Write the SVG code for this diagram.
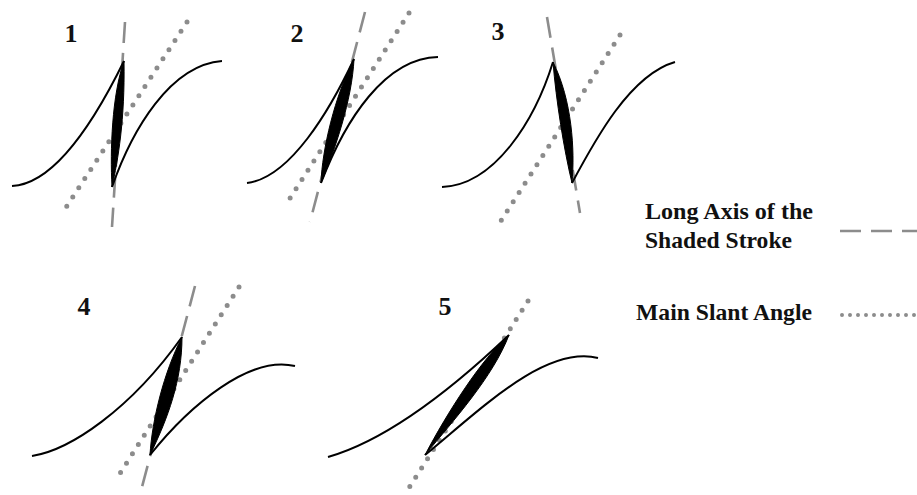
<svg xmlns="http://www.w3.org/2000/svg" width="917" height="495" viewBox="0 0 917 495">
<style>
.num{font-family:"Liberation Serif","Times New Roman",serif;font-weight:bold;font-size:26px;fill:#111;text-anchor:middle}
.lbl{font-family:"Liberation Serif","Times New Roman",serif;font-weight:bold;font-size:23px;fill:#111}
.dash{stroke:#8c8c8c;stroke-width:2.6;fill:none;stroke-dasharray:21 10}
.dot{stroke:#8c8c8c;stroke-width:5;fill:none;stroke-dasharray:0 11;stroke-linecap:round}
.ldot{stroke:#8c8c8c;stroke-width:4;fill:none;stroke-dasharray:0 8;stroke-linecap:round}
.crv{stroke:#000;stroke-width:2;fill:none}
.lens{fill:#000;stroke:#000;stroke-width:1}
</style>
<rect width="917" height="495" fill="#fff"/>
<g id="panel1">
<line class="dash" x1="125" y1="22" x2="112" y2="227"/>
<line class="dot" x1="187" y1="22" x2="63" y2="212"/>
<path class="crv" d="M12,186 C55,184 95,120 124,61"/>
<path class="crv" d="M112,187 C132,130 170,65 222,61"/>
<path class="lens" d="M124,61 C112,95 110,150 112,187 C118,160 125,120 124,61 Z"/>
<text class="num" x="71" y="42">1</text>
</g>
<g id="panel2">
<line class="dash" x1="365" y1="12" x2="310" y2="222"/>
<line class="dot" x1="409" y1="13" x2="287" y2="203"/>
<path class="crv" d="M247,183 C290,178 330,110 354,59"/>
<path class="crv" d="M321,183 C345,120 385,58 438,57"/>
<path class="lens" d="M354,59 C335,95 322,150 321,183 C335,150 352,100 354,59 Z"/>
<text class="num" x="297" y="42">2</text>
</g>
<g id="panel3">
<line class="dash" x1="547" y1="17" x2="580" y2="213"/>
<line class="dot" x1="620" y1="35" x2="497" y2="227"/>
<path class="crv" d="M442,187 C495,185 535,120 553,62"/>
<path class="crv" d="M572,183 C595,140 630,75 675,62"/>
<path class="lens" d="M553,62 C556,100 564,150 572,183 C575,150 572,100 553,62 Z"/>
<text class="num" x="498" y="40">3</text>
</g>
<g id="panel4">
<line class="dash" x1="195" y1="286" x2="142" y2="487"/>
<line class="dot" x1="239" y1="287" x2="117" y2="478"/>
<path class="crv" d="M32,456 C70,450 130,410 182,337"/>
<path class="crv" d="M150,455 C190,405 250,355 295,366"/>
<path class="lens" d="M182,337 C164,372 152,420 150,455 C168,418 182,380 182,337 Z"/>
<text class="num" x="84" y="315">4</text>
</g>
<g id="panel5">
<line class="dot" x1="528" y1="301" x2="407" y2="491"/>
<path class="crv" d="M328,457 C370,445 430,410 509,335"/>
<path class="crv" d="M425,455 C480,410 545,345 598,358"/>
<path class="lens" d="M509,335 C482,358 447,413 425,455 C453,421 493,377 509,335 Z"/>
<text class="num" x="445" y="315">5</text>
</g>
<g id="legend">
<text class="lbl" x="645" y="219" textLength="168" lengthAdjust="spacingAndGlyphs">Long Axis of the</text>
<text class="lbl" x="645" y="248" textLength="147" lengthAdjust="spacingAndGlyphs">Shaded Stroke</text>
<line class="dash" x1="840" y1="231" x2="917" y2="231"/>
<text class="lbl" x="636" y="320" textLength="176" lengthAdjust="spacingAndGlyphs">Main Slant Angle</text>
<line class="ldot" x1="842" y1="315" x2="917" y2="315"/>
</g>
</svg>
